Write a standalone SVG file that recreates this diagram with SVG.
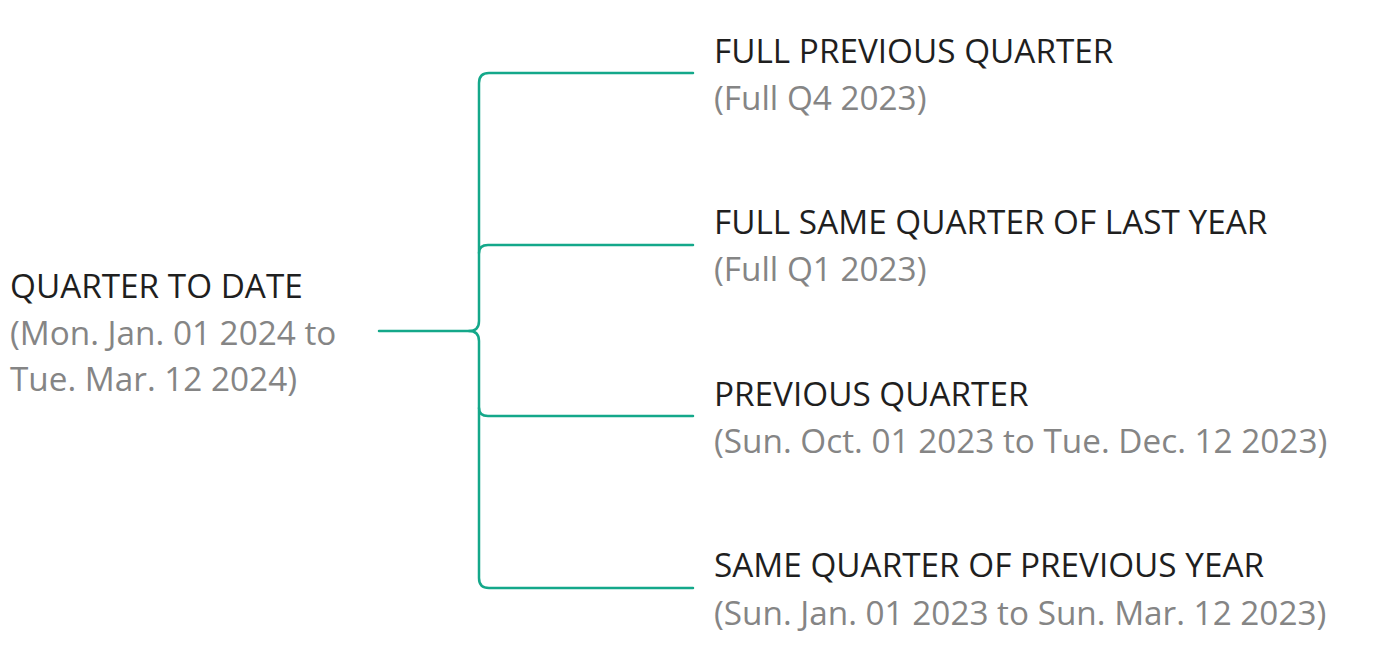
<svg xmlns="http://www.w3.org/2000/svg" width="1384" height="650" viewBox="0 0 1384 650">
<style>
.t{font-family:"Open Sans","Noto Sans",sans-serif;font-size:33.3px;fill:#1f1f1f}
.s{font-family:"Open Sans","Noto Sans",sans-serif;font-size:33.3px;fill:#858585}
.c{fill:none;stroke:#14a88a;stroke-width:2.5;stroke-linecap:round;stroke-linejoin:round}
</style>
<rect width="1384" height="650" fill="#ffffff"/>
<g id="connectors">
<path class="c" d="M379 331 H469 Q479 331 479 321 V83 Q479 73 489 73 H693"/>
<path class="c" d="M469 331 Q479 331 479 341 V578 Q479 588 489 588 H693"/>
<path class="c" d="M479 253 Q479 245 488 245 H693"/>
<path class="c" d="M479 408 Q479 416 488 416 H693"/>
</g>
<g id="root">
<text class="t" x="10" y="298">QUARTER TO DATE</text>
<text class="s" x="10" y="345">(Mon. Jan. 01 2024 to</text>
<text class="s" x="10" y="391">Tue. Mar. 12 2024)</text>
</g>
<g id="n1">
<text class="t" x="714" y="62.5">FULL PREVIOUS QUARTER</text>
<text class="s" x="714" y="109.5">(Full Q4 2023)</text>
</g>
<g id="n2">
<text class="t" x="714" y="234">FULL SAME QUARTER OF LAST YEAR</text>
<text class="s" x="714" y="281">(Full Q1 2023)</text>
</g>
<g id="n3">
<text class="t" x="714" y="405.5">PREVIOUS QUARTER</text>
<text class="s" x="714" y="452.5">(Sun. Oct. 01 2023 to Tue. Dec. 12 2023)</text>
</g>
<g id="n4">
<text class="t" x="714" y="577">SAME QUARTER OF PREVIOUS YEAR</text>
<text class="s" x="714" y="624.5">(Sun. Jan. 01 2023 to Sun. Mar. 12 2023)</text>
</g>
</svg>
